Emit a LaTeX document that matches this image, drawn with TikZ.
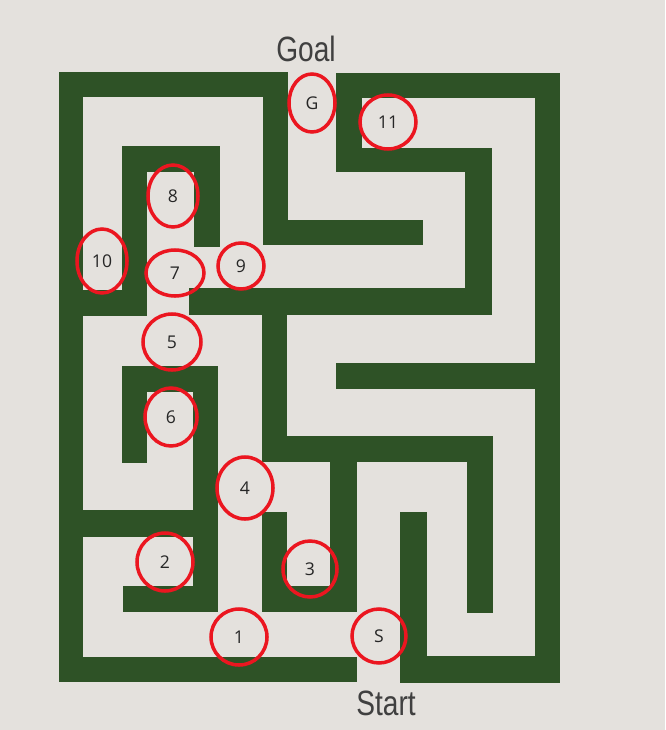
\documentclass[tikz,border=0pt]{standalone}
\usepackage{fontspec}
\setmainfont{Open Sans}
\newfontfamily\titlefont{Liberation Sans}
\usetikzlibrary{shapes.geometric}
\definecolor{wallgreen}{RGB}{46,82,38}
\definecolor{paper}{RGB}{228,225,221}
\definecolor{ringred}{RGB}{235,22,32}
\tikzset{
  wall/.style={fill=wallgreen, draw=none},
  ring/.style 2 args={ellipse, draw=ringred, line width=3pt, inner sep=0pt,
    minimum width={#1*0.03cm}, minimum height={#2*0.03cm},
    font=\fontsize{15}{15}\selectfont, text=black!85},
  caption/.style={font=\titlefont\fontsize{30}{30}\selectfont, text=black!75, xscale=0.8}
}
\begin{document}
\begin{tikzpicture}[x=0.03cm,y=-0.03cm]
\useasboundingbox (0,0) rectangle (665,730);
\fill[paper] (0,0) rectangle (665,730);
% outer walls
\fill[wall] (59,72) rectangle (288,97);
\fill[wall] (59,72) rectangle (83,682);
\fill[wall] (59,657) rectangle (357,682);
\fill[wall] (336,73) rectangle (560,98);
\fill[wall] (535,73) rectangle (560,683);
\fill[wall] (400,656) rectangle (560,683);
\fill[wall] (400,512) rectangle (427,683);
% inner walls
\fill[wall] (263,72) rectangle (288,245);
\fill[wall] (263,220) rectangle (423,245);
\fill[wall] (336,73) rectangle (362,172);
\fill[wall] (336,148) rectangle (492,172);
\fill[wall] (465,148) rectangle (492,315);
\fill[wall] (189,288) rectangle (492,315);
\fill[wall] (122,146) rectangle (147,315);
\fill[wall] (122,146) rectangle (220,172);
\fill[wall] (194,146) rectangle (220,247);
\fill[wall] (59,290) rectangle (147,316);
\fill[wall] (262,288) rectangle (287,462);
\fill[wall] (262,436) rectangle (493,462);
\fill[wall] (467,436) rectangle (493,613);
\fill[wall] (330,436) rectangle (357,612);
\fill[wall] (262,512) rectangle (287,612);
\fill[wall] (262,586) rectangle (357,612);
\fill[wall] (336,363) rectangle (535,389);
\fill[wall] (122,366) rectangle (147,463);
\fill[wall] (122,366) rectangle (218,392);
\fill[wall] (193,366) rectangle (218,612);
\fill[wall] (59,510) rectangle (218,537);
\fill[wall] (123,586) rectangle (218,612);
% captions
\node[caption] (goal) at (306,49) {Goal};
\node[caption] (start) at (386,703) {Start};
% marked cells
\node[ring={46}{58}] (G) at (312,103) {G};
\node[ring={56}{54}] (n11) at (388,122) {11};
\node[ring={50}{62}] (n8) at (173,196) {8};
\node[ring={50}{64}] (n10) at (102,261) {10};
\node[ring={58}{46}] (n7) at (175,273) {7};
\node[ring={46}{46}] (n9) at (241,266) {9};
\node[ring={58}{56}] (n5) at (172,342) {5};
\node[ring={52}{58}] (n6) at (171,417) {6};
\node[ring={56}{62}] (n4) at (245,488) {4};
\node[ring={56}{58}] (n2) at (165,562) {2};
\node[ring={54}{56}] (n3) at (310,569) {3};
\node[ring={56}{56}] (n1) at (239,637) {1};
\node[ring={54}{54}] (S) at (379,636) {S};
\end{tikzpicture}
\end{document}
